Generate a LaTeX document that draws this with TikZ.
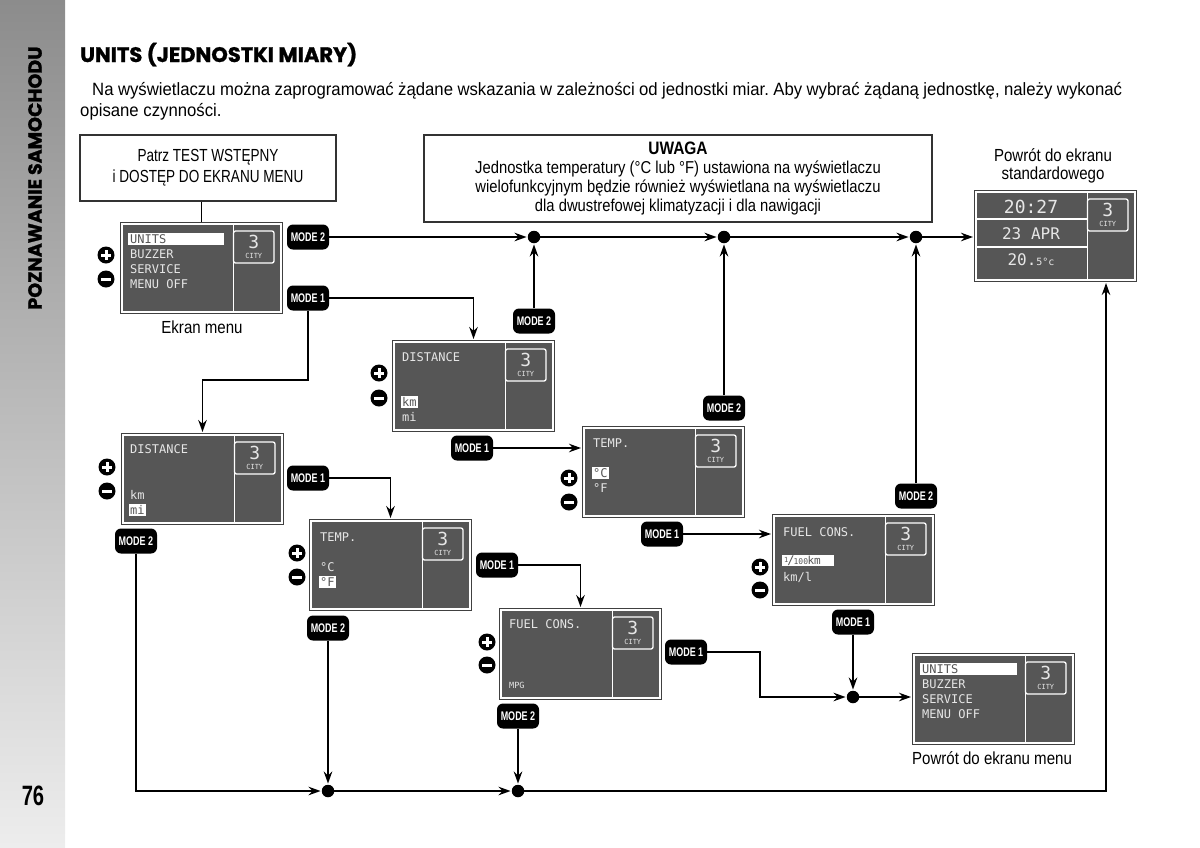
\documentclass[tikz,border=0pt]{standalone}
\usepackage{fontspec}
\setmainfont{Liberation Sans}[FakeStretch=0.86]
\newfontfamily\bodyfont{Liberation Sans}[FakeStretch=0.94]
\newfontfamily\capsfont{Liberation Sans}[FakeStretch=0.775]
\newfontfamily\titlefont{Poppins}[BoldFeatures={FakeBold=1.2}]
\newfontfamily\badgefont{Liberation Sans}[FakeStretch=0.72]
\newfontfamily\lcdfont{DejaVu Sans Mono}
\usetikzlibrary{arrows.meta,calc}
\frenchspacing
\definecolor{scrgray}{HTML}{565656}
\definecolor{lcdtxt}{HTML}{E6E6E6}
\definecolor{sidetop}{HTML}{8C8C8C}
\definecolor{sidebot}{HTML}{EDEDED}
\tikzset{
  scrouter/.style={draw=black!75, line width=1pt, fill=white, minimum width=162pt, minimum height=91pt, inner sep=0, anchor=north west},
  lcd/.style={font=\lcdfont\fontsize{12}{12}\selectfont, text=lcdtxt, inner sep=0, anchor=west},
  lcdhi/.style={lcd, fill=white, text=scrgray, inner sep=1.2pt},
  modebox/.style={fill=black, rounded corners=6pt, minimum width=42pt, minimum height=25pt, inner sep=0, text=white, font=\badgefont\bfseries\fontsize{12.5}{12.5}\selectfont},
  jdot/.style={circle, fill=black, minimum size=12.5pt, inner sep=0},
  arr/.style={line width=1.8pt, -{Stealth[length=12pt,width=8.5pt]}, shorten >=1pt},
  conn/.style={line width=1.8pt},
  lbl/.style={font=\fontsize{17.5}{21}\selectfont, inner sep=0},
  pmc/.style={circle, fill=black, minimum size=17pt, inner sep=0},
  pmbar/.style={white, line width=3pt},
  infobox/.style={draw=black!80, line width=1.2pt}
}
\newcommand\lcdscreen[3]{%
  \node[scrouter] (#1) at (#2,#3) {};
  \begin{scope}[shift={(#2,#3)}]
    \fill[scrgray] (2.5,2.5) rectangle (159.5,88.5);
    \draw[white,line width=1.3pt] (113.5,2.5) -- (113.5,88.5);
    \draw[white,line width=1.3pt,rounded corners=2pt,fill=scrgray] (113.5,9) rectangle (154,41);
    \node[lcd,anchor=center,font=\lcdfont\fontsize{18}{18}\selectfont] at (133.75,20) {3};
    \node[lcd,anchor=center,font=\lcdfont\fontsize{7}{7}\selectfont] at (133.75,34) {CITY};
  \end{scope}}
\newcommand\plusmin[4]{%
  \node[pmc] (#1p) at (#2,#3) {};
  \node[pmc] (#1m) at (#2,#4) {};
  \draw[pmbar] (#1p.center) ++(-5,0) -- ++(10,0);
  \draw[pmbar] (#1p.center) ++(0,-5) -- ++(0,10);
  \draw[pmbar] (#1m.center) ++(-5,0) -- ++(10,0);}
\begin{document}
\begin{tikzpicture}[x=1pt,y=-1pt]
\useasboundingbox (0,0) rectangle (1200,847);
% sidebar
\shade[top color=sidetop, bottom color=sidebot] (0,0) rectangle (65,847);
\node[rotate=90, inner sep=0, font=\titlefont\bfseries\fontsize{19}{20}\selectfont] (side) at (35,178) {POZNAWANIE SAMOCHODU};
\node[inner sep=0, font=\badgefont\bfseries\fontsize{28}{28}\selectfont] (pnum) at (33,796) {76};
% title and intro
\node[anchor=base west, inner sep=0, font=\titlefont\bfseries\fontsize{21}{24}\selectfont] (title) at (80,62) {UNITS (JEDNOSTKI MIARY)};
\node[inner sep=0, font=\bodyfont\fontsize{17.8}{21}\selectfont, anchor=base west] (body1) at (92,95) {\makebox[1030pt][s]{Na wyświetlaczu można zaprogramować żądane wskazania w zależności od jednostki miar. Aby wybrać żądaną jednostkę, należy wykonać}};
\node[inner sep=0, font=\bodyfont\fontsize{17.8}{21}\selectfont, anchor=base west] (body2) at (80,116) {opisane czynności.};
% info boxes
\node[infobox, inner sep=0, font=\capsfont\fontsize{17.5}{21}\selectfont, minimum width=256pt, minimum height=66pt, align=center] (patrz) at (208,168) {Patrz TEST WSTĘPNY\\i DOSTĘP DO EKRANU MENU};
\node[infobox, font=\fontsize{17.2}{19.3}\selectfont, inner sep=0, minimum width=508pt, minimum height=87pt, align=center] (uwaga) at (678,178.5) {{\bfseries\fontsize{18}{19.3}\selectfont UWAGA}\\Jednostka temperatury (°C lub °F) ustawiona na wyświetlaczu\\wielofunkcyjnym będzie również wyświetlana na wyświetlaczu\\dla dwustrefowej klimatyzacji i dla nawigacji};
% screens
\lcdscreen{menu1}{120}{222}
\begin{scope}[shift={(120,222)}]
  \fill[white] (8,11) rectangle (104,23);
  \node[lcd, text=scrgray] at (10,17) {UNITS};
  \node[lcd] at (10,32) {BUZZER};
  \node[lcd] at (10,47) {SERVICE};
  \node[lcd] at (10,62) {MENU OFF};
\end{scope}
\lcdscreen{dist1}{392}{340}
\begin{scope}[shift={(392,340)}]
  \node[lcd] at (10,17) {DISTANCE};
  \node[lcdhi] at (8.8,62) {km};
  \node[lcd] at (10,77) {mi};
\end{scope}
\lcdscreen{dist2}{121}{433}
\begin{scope}[shift={(121,433)}]
  \node[lcd] at (9,16) {DISTANCE};
  \node[lcd] at (9,62) {km};
  \node[lcdhi] at (7.8,77) {mi};
\end{scope}
\lcdscreen{temp1}{582}{426}
\begin{scope}[shift={(582,426)}]
  \node[lcd] at (11,17) {TEMP.};
  \node[lcdhi] at (9.8,47) {°C};
  \node[lcd] at (11,62) {°F};
\end{scope}
\lcdscreen{temp2}{309}{519}
\begin{scope}[shift={(309,519)}]
  \node[lcd] at (11,18) {TEMP.};
  \node[lcd] at (11,48) {°C};
  \node[lcdhi] at (9.8,63) {°F};
\end{scope}
\lcdscreen{fuel1}{772}{514}
\begin{scope}[shift={(772,514)}]
  \node[lcd] at (11,18) {FUEL CONS.};
  \fill[white] (10,41) rectangle (62,52);
  \node[lcd, text=scrgray] at (12,47) {\raisebox{2pt}{\fontsize{7}{7}\selectfont 1}\kern-1pt/\kern-1pt{\fontsize{8}{8}\selectfont 100}\kern-0.5pt{\fontsize{11}{11}\selectfont km}};
  \node[lcd] at (11,63) {km/l};
\end{scope}
\lcdscreen{fuel2}{499}{608}
\begin{scope}[shift={(499,608)}]
  \node[lcd] at (10,16) {FUEL CONS.};
  \node[lcd, font=\lcdfont\fontsize{8.5}{9}\selectfont] at (10,77) {MPG};
\end{scope}
\lcdscreen{menu2}{912}{653}
\begin{scope}[shift={(912,653)}]
  \fill[white] (8,10) rectangle (105,22);
  \node[lcd, text=scrgray] at (10,16) {UNITS};
  \node[lcd] at (10,31) {BUZZER};
  \node[lcd] at (10,46) {SERVICE};
  \node[lcd] at (10,61) {MENU OFF};
\end{scope}
\lcdscreen{std}{974}{190}
\begin{scope}[shift={(974,190)}]
  \draw[white,line width=1.3pt] (2.5,29) -- (113.5,29);
  \draw[white,line width=1.3pt] (2.5,57) -- (113.5,57);
  \node[lcd, anchor=center, font=\lcdfont\fontsize{18}{18}\selectfont] at (57,17) {20:27};
  \node[lcd, anchor=center, font=\lcdfont\fontsize{16}{16}\selectfont] at (57,44) {23 APR};
  \node[lcd, anchor=base, font=\lcdfont\fontsize{16}{16}\selectfont] at (57,75) {20.{\fontsize{10}{10}\selectfont 5°c}};
\end{scope}
% plus/minus
\plusmin{pa}{106}{255}{279}
\plusmin{pb}{379}{373}{398}
\plusmin{pc}{107}{467}{491}
\plusmin{pd}{569}{478}{502}
\plusmin{pe}{297}{553}{577}
\plusmin{pf}{760}{567}{590}
\plusmin{pg}{487}{642}{665}
% labels
\node[lbl] (ekran) at (202,327) {Ekran menu};
\node[lbl, align=center, font=\fontsize{17.5}{18.5}\selectfont] (powstd) at (1053,166) {Powrót do ekranu\\standardowego};
\node[lbl] (powmenu) at (992,758) {Powrót do ekranu menu};
% mode badges
\node[modebox] (bA) at (308,237) {MODE 2};
\node[modebox] (bB) at (308,298) {MODE 1};
\node[modebox] (bC) at (534,321) {MODE 2};
\node[modebox] (bD) at (472,448) {MODE 1};
\node[modebox] (bE) at (308,478) {MODE 1};
\node[modebox] (bF) at (136,541) {MODE 2};
\node[modebox] (bG) at (724,408) {MODE 2};
\node[modebox] (bH) at (662,534) {MODE 1};
\node[modebox] (bI) at (497,565) {MODE 1};
\node[modebox] (bJ) at (328,628) {MODE 2};
\node[modebox] (bK) at (916,496) {MODE 2};
\node[modebox] (bL) at (853,622) {MODE 1};
\node[modebox] (bM) at (686,652) {MODE 1};
\node[modebox] (bN) at (518,716) {MODE 2};
% junction dots
\node[jdot] (d1) at (534,237) {};
\node[jdot] (d2) at (724,237) {};
\node[jdot] (d3) at (916,237) {};
\node[jdot] (d4) at (328,791) {};
\node[jdot] (d5) at (518,791) {};
\node[jdot] (d6) at (853,697) {};
\coordinate (k1) at (308,380);
\coordinate (k2) at (1106,791);
\coordinate (k3) at (760,652);
% connectors
\draw[conn] (patrz.south -| menu1.north) -- (menu1.north);
\draw[arr] (bA) -- (d1);
\draw[arr] (d1) -- (d2);
\draw[arr] (d2) -- (d3);
\draw[arr] (d3) -- (d3 -| std.west);
\draw[arr] (bC) -- (d1);
\draw[arr] (bG) -- (d2);
\draw[arr] (bK) -- (d3);
\draw[arr] (bB.east) -| (dist1.north);
\draw[arr] (bB.south) -- (k1) -| (dist2.north);
\draw[arr] (bD.east) -- (bD.east -| temp1.west);
\draw[arr] (bE.east) -| (temp2.north);
\draw[arr] (bF.south) |- (d4);
\draw[arr] (bH.east) -- (bH.east -| fuel1.west);
\draw[arr] (bI.east) -| (fuel2.north);
\draw[arr] (bJ) -- (d4);
\draw[arr] (d4) -- (d5);
\draw[arr] (bN) -- (d5);
\draw[arr] (d5) -- (k2) -- (k2 |- std.south);
\draw[arr] (bL) -- (d6);
\draw[arr] (bM.east) -- (k3) |- (d6);
\draw[arr] (d6) -- (d6 -| menu2.west);
\end{tikzpicture}
\end{document}
